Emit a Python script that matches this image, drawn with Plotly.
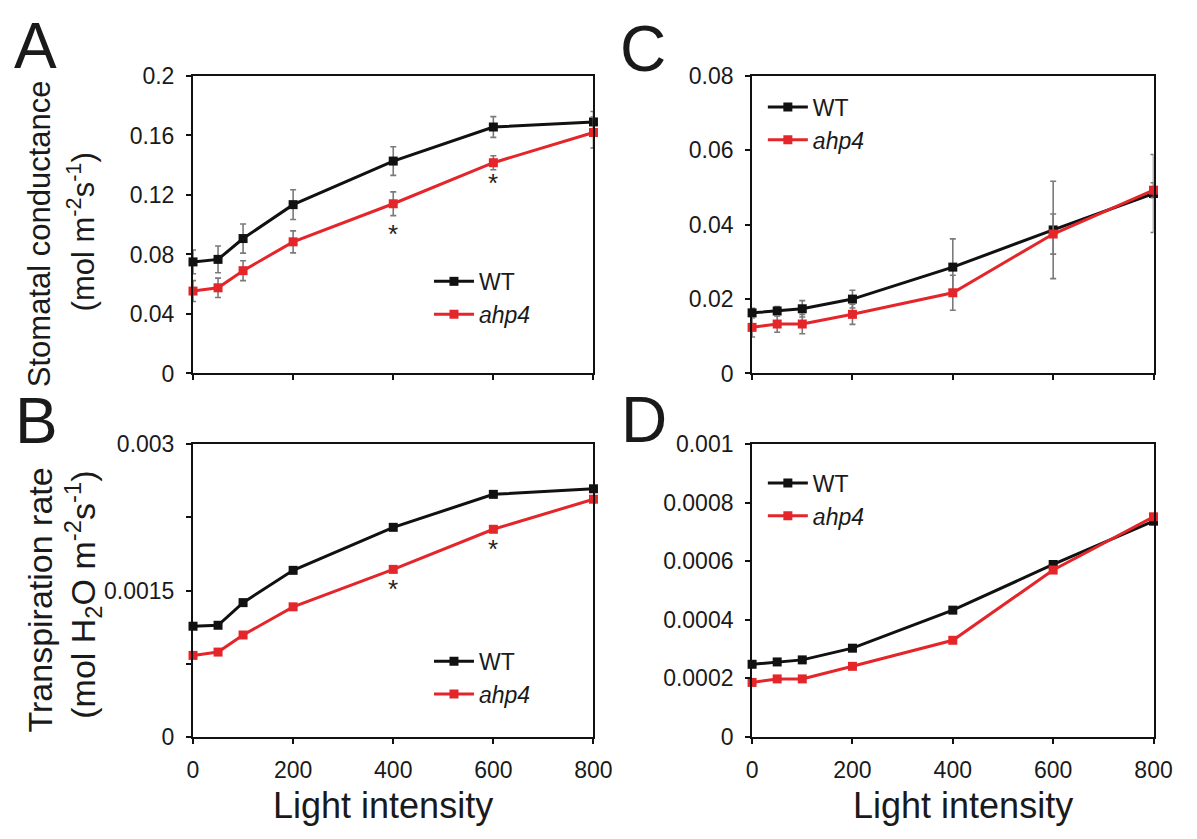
import plotly.graph_objects as go
from plotly.subplots import make_subplots

# ===============================
# DATA
# ===============================

light = [0, 50, 100, 200, 400, 600, 800]

# A - stomatal conductance
gs_wt = [0.075, 0.0767, 0.0907, 0.1135, 0.1428, 0.1657, 0.1691]
gs_wt_err = [0.008, 0.009, 0.0098, 0.010, 0.0096, 0.007, 0.007]
gs_ahp4 = [0.0554, 0.0576, 0.0691, 0.0885, 0.1141, 0.1417, 0.162]
gs_ahp4_err = [0.007, 0.0065, 0.0067, 0.0074, 0.008, 0.0047, 0.0104]

# B - transpiration rate
tr_wt = [0.001134, 0.001144, 0.001376, 0.001707, 0.002148, 0.002486, 0.002543]
tr_ahp4 = [0.000835, 0.000869, 0.001044, 0.001333, 0.001717, 0.002128, 0.002436]

# C - stomatal conductance (second experiment)
gs2_wt = [0.0163, 0.0168, 0.0174, 0.0200, 0.0286, 0.0386, 0.0484]
gs2_wt_err = [0.0012, 0.0012, 0.0022, 0.0024, 0.0076, 0.0131, 0.0105]
gs2_ahp4 = [0.0124, 0.0133, 0.0133, 0.0159, 0.0217, 0.0375, 0.0493]
gs2_ahp4_err = [0.0026, 0.0022, 0.0026, 0.0027, 0.0047, 0.0054, 0.002]

# D - transpiration rate (second experiment)
tr2_wt = [0.000248, 0.000256, 0.000263, 0.000303, 0.000433, 0.000589, 0.000737]
tr2_ahp4 = [0.000186, 0.000198, 0.000198, 0.000241, 0.00033, 0.00057, 0.000752]

# significance marks
star_x = [400, 600]
star_a = [0.094, 0.128]
star_b = [0.00152, 0.00193]

# tick labels
x_ticks = [0, 200, 400, 600, 800]
a_ticks = [0, 0.04, 0.08, 0.12, 0.16, 0.2]
a_labels = ["0", "0.04", "0.08", "0.12", "0.16", "0.2"]
b_ticks = [0, 0.0015, 0.003]
b_labels = ["0", "0.0015", "0.003"]
b_minor_step = 0.00075
c_ticks = [0, 0.02, 0.04, 0.06, 0.08]
c_labels = ["0", "0.02", "0.04", "0.06", "0.08"]
d_ticks = [0, 0.0002, 0.0004, 0.0006, 0.0008, 0.001]
d_labels = ["0", "0.0002", "0.0004", "0.0006", "0.0008", "0.001"]

# ===============================
# FIGURE
# ===============================

W, H = 1197, 839
BLACK = "#111111"
RED = "#e4262a"
ERR = "#7a7a7a"
FONT = "Liberation Sans, Arial, sans-serif"

fig = make_subplots(rows=2, cols=2)


def add_pair(row, col, wt, ahp4, wt_err=None, ahp4_err=None, legend="legend"):
    for name, ys, err, color in [("WT", wt, wt_err, BLACK),
                                 ("<i>ahp4</i>", ahp4, ahp4_err, RED)]:
        fig.add_trace(go.Scatter(
            x=light, y=ys, mode="lines+markers", name=name,
            line=dict(color=color, width=3),
            marker=dict(symbol="square", size=9, color=color),
            error_y=dict(type="data", array=err, visible=err is not None,
                         color=ERR, thickness=1.6, width=3),
            cliponaxis=False, legend=legend,
        ), row=row, col=col)


add_pair(1, 1, gs_wt, gs_ahp4, gs_wt_err, gs_ahp4_err, "legend")
add_pair(1, 2, gs2_wt, gs2_ahp4, gs2_wt_err, gs2_ahp4_err, "legend3")
add_pair(2, 1, tr_wt, tr_ahp4, legend="legend2")
add_pair(2, 2, tr2_wt, tr2_ahp4, legend="legend4")

# axes styling
ax_common = dict(showline=True, linecolor=BLACK, linewidth=2, mirror=True,
                 ticks="outside", ticklen=5, tickwidth=2, tickcolor=BLACK,
                 showgrid=False, zeroline=False,
                 tickfont=dict(family=FONT, size=23, color="#1a1a1a"))

xa = [191 / W, 600 / W]
xc = [762 / W, 1172 / W]
ytop = [1 - 372 / H, 1 - 65 / H]
ybot = [1 - 747 / H, 1 - 445 / H]

fig.update_xaxes(**ax_common, range=[0, 800], tickvals=x_ticks, ticklabelstandoff=7)
fig.update_yaxes(**ax_common, ticklabelstandoff=7)

fig.update_xaxes(domain=xa, showticklabels=False, row=1, col=1)
fig.update_xaxes(domain=xc, showticklabels=False, row=1, col=2)
fig.update_xaxes(domain=xa, row=2, col=1)
fig.update_xaxes(domain=xc, row=2, col=2)

fig.update_yaxes(domain=ytop, range=[0, 0.2], tickvals=a_ticks, ticktext=a_labels, row=1, col=1)
fig.update_yaxes(domain=ytop, range=[0, 0.08], tickvals=c_ticks, ticktext=c_labels, row=1, col=2)
fig.update_yaxes(domain=ybot, range=[0, 0.003], tickvals=b_ticks, ticktext=b_labels,
                 minor=dict(dtick=b_minor_step, tick0=0, ticks="outside", ticklen=5,
                            tickwidth=2, tickcolor=BLACK, showgrid=False),
                 row=2, col=1)
fig.update_yaxes(domain=ybot, range=[0, 0.001], tickvals=d_ticks, ticktext=d_labels, row=2, col=2)

# asterisks
for sx, sy in zip(star_x, star_a):
    fig.add_annotation(x=sx, y=sy, xref="x", yref="y", text="*", showarrow=False,
                       font=dict(family=FONT, size=26, color="#222"))
for sx, sy in zip(star_x, star_b):
    fig.add_annotation(x=sx, y=sy, xref="x3", yref="y3", text="*", showarrow=False,
                       font=dict(family=FONT, size=26, color="#222"))


def paper_note(px, py, text, size, angle=0):
    fig.add_annotation(x=px / W, y=1 - py / H, xref="paper", yref="paper",
                       text=text, showarrow=False, textangle=angle,
                       xanchor="center", yanchor="middle",
                       font=dict(family=FONT, size=size, color="#1a1a1a"))


# panel letters
paper_note(30, 34, "A", 64)
paper_note(31, 421, "B", 64)
paper_note(651, 37, "C", 64)
paper_note(652, 420, "D", 64)

# y titles
paper_note(35, 228, "Stomatal conductance", 31, -90)
paper_note(77, 226, "(mol m<sup>-2</sup>s<sup>-1</sup>)", 31, -90)
paper_note(35, 606, "Transpiration rate", 34, -90)
paper_note(79, 600, "(mol H<sub>2</sub>O m<sup>-2</sup>s<sup>-1</sup>)", 34, -90)

# x titles
paper_note(385, 818, "Light intensity", 36)
paper_note(977, 818, "Light intensity", 36)

leg_common = dict(bgcolor="rgba(0,0,0,0)", font=dict(family=FONT, size=23, color="#1a1a1a"),
                  xanchor="left", yanchor="middle", itemwidth=40)

fig.update_layout(
    width=W, height=H,
    margin=dict(l=0, r=0, t=0, b=0),
    paper_bgcolor="white", plot_bgcolor="white",
    legend=dict(**leg_common, x=432 / W, y=1 - 294 / H),
    legend2=dict(**leg_common, x=432 / W, y=1 - 686 / H),
    legend3=dict(**leg_common, x=773 / W, y=1 - 114 / H),
    legend4=dict(**leg_common, x=773 / W, y=1 - 502 / H),
)

fig.write_html("out.html", config={"displayModeBar": False},
               post_script="document.body.style.margin='0px';")
